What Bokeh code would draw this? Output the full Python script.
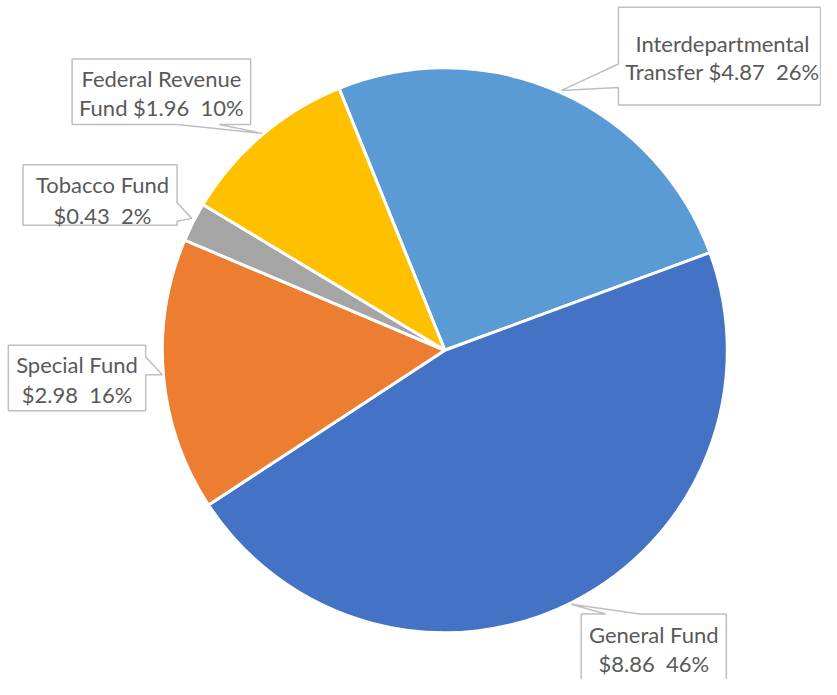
import math
from bokeh.plotting import figure
from bokeh.models import Range1d, ColumnDataSource
from bokeh.core.properties import value
from bokeh.embed import file_html
from bokeh.resources import INLINE

# ---- data (clockwise order from the top) ----
categories = ["Interdepartmental Transfer", "General Fund", "Special Fund", "Tobacco Fund", "Federal Revenue Fund"]
amounts = [4.87, 8.86, 2.98, 0.43, 1.96]
percent_labels = [26, 46, 16, 2, 10]
colors = ["#5B9BD5", "#4472C4", "#ED7D31", "#A5A5A5", "#FFC000"]
label_line1 = ["Interdepartmental", "General Fund", "Special Fund", "Tobacco Fund", "Federal Revenue"]
label_line2_prefix = ["Transfer ", "", "", "", "Fund "]

W, H = 821, 679
REF_W, REF_H = 837, 695

def Y(py):
    return REF_H - py

p = figure(width=W, height=H, output_backend="svg", toolbar_location=None,
           x_range=Range1d(0, REF_W), y_range=Range1d(0, REF_H),
           min_border=0)
p.axis.visible = False
p.grid.visible = False
p.outline_line_color = None
p.background_fill_color = "white"
p.border_fill_color = "white"

# ---- pie ----
cx, cy, r = 453, Y(358), 288
start_deg = 112.0
total = sum(amounts)
starts, ends = [], []
cum = 0.0
for a in amounts:
    s = math.radians(start_deg - 360.0 * (cum + a) / total)
    e = math.radians(start_deg - 360.0 * cum / total)
    starts.append(s)
    ends.append(e)
    cum += a

src = ColumnDataSource(dict(start=starts, end=ends, color=colors, cat=categories, amt=amounts))
p.wedge(x=cx, y=cy, radius=r, start_angle="start", end_angle="end",
        fill_color="color", line_color="white", line_width=3, source=src)

# ---- callout boxes (reference pixel coords) ----
callouts = {
    "Interdepartmental Transfer": [(630, 7), (836, 7), (836, 107), (630, 107), (630, 89), (572, 92), (630, 65)],
    "General Fund": [(592, 628), (617, 628), (582, 618), (652, 628), (740, 628), (740, 705), (592, 705)],
    "Special Fund": [(8, 353), (148, 353), (148, 365), (165, 383), (148, 383), (148, 420), (8, 420)],
    "Tobacco Fund": [(23, 168), (180, 168), (180, 207), (195, 223), (180, 226), (180, 230), (23, 230)],
    "Federal Revenue Fund": [(73, 60), (255, 60), (255, 127), (223, 127), (267, 136), (180, 127), (73, 127)],
}
text_pos = {
    "Interdepartmental Transfer": (736, 44, 73),
    "General Fund": (666, 649, 679),
    "Special Fund": (78, 373, 403),
    "Tobacco Fund": (104, 188, 220),
    "Federal Revenue Fund": (164, 80, 110),
}

for i, cat in enumerate(categories):
    pts = callouts[cat]
    p.patch([q[0] for q in pts], [Y(q[1]) for q in pts], fill_color="white",
            line_color="#BFBFBF", line_width=1.5)
    l2 = f"{label_line2_prefix[i]}${amounts[i]:.2f}\u00a0 {percent_labels[i]}%"
    tx, ty1, ty2 = text_pos[cat]
    p.text(x=[tx, tx], y=[Y(ty1), Y(ty2)], text=[label_line1[i], l2],
           text_font=value("Lato"), text_font_size="22px", text_color="#595959",
           text_align="center", text_baseline="middle")

open("out.html", "w").write(file_html(p, INLINE))
